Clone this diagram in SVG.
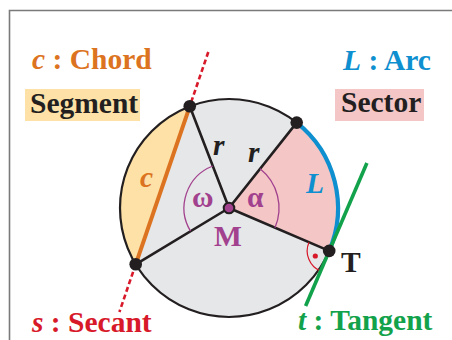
<svg xmlns="http://www.w3.org/2000/svg" width="452" height="340" viewBox="0 0 452 340">
<style>
text{font-family:"Liberation Serif","Times New Roman",serif;font-weight:bold;font-size:29.5px}
.it{font-style:italic}
.pt{fill:#231f20}
.rad{stroke:#231f20;stroke-width:2.6;fill:none}
.ang{stroke:#a2418e;stroke-width:1.3;fill:none}
</style>
<rect width="452" height="340" fill="#fff"/>
<path d="M9.5 340 V10.5 H452" fill="none" stroke="#7a7a7a" stroke-width="1.6"/>
<g id="circle">
<circle cx="229" cy="208" r="109" fill="#e6e7e8"/>
</g>
<g id="segment">
<path d="M189.75 106.3 A109 109 0 0 0 135.7 264.3 Z" fill="#fde1a6"/>
</g>
<g id="sector">
<path d="M229 208 L296.7 122.6 A109 109 0 0 1 329.2 250.9 Z" fill="#f4c6c6"/>
</g>
<g id="connectors">
<path class="rad" d="M229 208 L189.75 106.3 M229 208 L296.7 122.6 M229 208 L329.2 250.9 M229 208 L135.7 264.3"/>
<circle cx="229" cy="208" r="109" fill="none" stroke="#231f20" stroke-width="2.2"/>
<path d="M296.7 122.6 A109 109 0 0 1 329.2 250.9" fill="none" stroke="#0e8fcf" stroke-width="4.2"/>
<path d="M189.75 106.3 L135.7 264.3" stroke="#dc7320" stroke-width="4" fill="none"/>
<path class="ang" d="M212.8 166 A45 45 0 0 0 190.5 231.2"/>
<path class="ang" d="M260.05 168.8 A50 50 0 0 1 274.95 227.7"/>
<path d="M309 242.2 A22 22 0 0 0 320.5 271.1" fill="none" stroke="#d7192a" stroke-width="1.2"/>
<circle cx="315.3" cy="256" r="2.6" fill="#d7192a"/>
<path d="M208.3 52 L189.75 106.3 M135.7 264.3 L119.4 312" stroke="#d7192a" stroke-width="2.6" stroke-dasharray="5 3" fill="none"/>
<path d="M366.9 163 L305.6 306" stroke="#12a24b" stroke-width="3.6" fill="none"/>
</g>
<g id="points">
<circle class="pt" cx="189.75" cy="106.3" r="6.3"/>
<circle class="pt" cx="135.7" cy="264.3" r="6.3"/>
<circle class="pt" cx="296.7" cy="122.6" r="6.3"/>
<circle class="pt" cx="329.2" cy="250.9" r="6.3"/>
<circle cx="229" cy="208" r="5.3" fill="#a2418e" stroke="#231f20" stroke-width="2"/>
</g>
<g id="labels">
<text x="32" y="69" fill="#dc7320"><tspan class="it">c</tspan> : Chord</text>
<rect x="25" y="89" width="115" height="32" fill="#fde1a6"/>
<text x="30" y="113" fill="#231f20">Segment</text>
<text x="343" y="70" fill="#0e8fcf"><tspan class="it">L</tspan> : Arc</text>
<rect x="335" y="89" width="89" height="32" fill="#f4c6c6"/>
<text x="341" y="112" fill="#231f20">Sector</text>
<text x="32" y="332" fill="#d7192a"><tspan class="it">s</tspan> : Secant</text>
<text x="298" y="330" fill="#12a24b"><tspan class="it">t</tspan> : Tangent</text>
<text x="341" y="272" fill="#231f20">T</text>
<text x="214" y="246" fill="#a2418e" font-size="33">M</text>
<text x="192" y="207" fill="#a2418e" font-weight="normal" font-size="29">ω</text>
<text x="247" y="207" fill="#a2418e" font-weight="normal" font-size="29">α</text>
<text class="it" x="213" y="155" fill="#231f20" font-size="32">r</text>
<text class="it" x="248" y="162" fill="#231f20" font-size="32">r</text>
<text class="it" x="140" y="187" fill="#dc7320" font-size="29">c</text>
<text class="it" x="306" y="193" fill="#0e8fcf" font-size="32">L</text>
</g>
</svg>
